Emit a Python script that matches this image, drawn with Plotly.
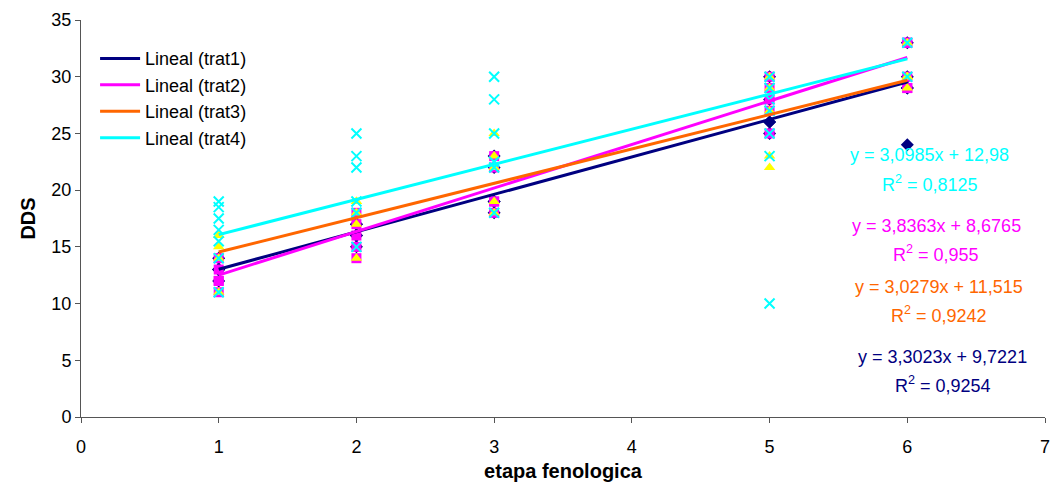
import plotly.graph_objects as go

# ---- data ----
stages = [1, 2, 3, 5, 6]
trat1 = {1: [12, 13, 14, 13, 13], 2: [16, 17, 17, 16, 15], 3: [18, 19, 19, 22, 23],
         5: [26, 26, 25, 30, 28], 6: [24, 29, 29, 33, 30]}
trat2 = {1: [12, 11, 12, 13, 14], 2: [15, 16, 17, 18, 14], 3: [18, 19, 22, 23, 19],
         5: [25, 28, 29, 30, 27], 6: [29, 30, 33, 33, 29]}
trat3 = {1: [11, 15, 16, 14, 16], 2: [14, 18, 19, 17, 19], 3: [18, 19, 22, 23, 25],
         5: [22, 23, 29, 30, 27], 6: [30, 29, 30, 33, 30]}
trat4 = {1: [19, 18.5, 17.5, 16.5, 15.5, 14, 11], 2: [25, 23, 22, 19, 18, 15],
         3: [30, 28, 25, 22.5, 22, 18], 5: [30, 29, 28, 27, 25, 23, 10], 6: [33, 30]}

# trend line coefficients (slope, intercept) and R2 as printed
slopes = [3.3023, 3.8363, 3.0279, 3.0985]
intercepts = [9.7221, 8.6765, 11.515, 12.98]
r2 = ["0,9254", "0,955", "0,9242", "0,8125"]
eq_text = ["y = 3,3023x + 9,7221", "y = 3,8363x + 8,6765",
           "y = 3,0279x + 11,515", "y = 3,0985x + 12,98"]
names = ["Lineal (trat1)", "Lineal (trat2)", "Lineal (trat3)", "Lineal (trat4)"]

colors = ["#000080", "#FF00FF", "#FF6600", "#00FFFF"]
marker_colors = ["#000080", "#FF00FF", "#FFFF00", "#00FFFF"]
symbols = ["diamond", "square", "triangle-up", "x-thin-open"]

fig = go.Figure()

for i, d in enumerate([trat1, trat2, trat3, trat4]):
    xs, ys = [], []
    for s in stages:
        for v in d[s]:
            xs.append(s)
            ys.append(v)
    mk = dict(symbol=symbols[i], color=marker_colors[i], size=10)
    if symbols[i] == "x-thin-open":
        mk["line"] = dict(color=marker_colors[i], width=2)
        mk["size"] = 10
    fig.add_trace(go.Scatter(x=xs, y=ys, mode="markers", marker=mk,
                             showlegend=False, hoverinfo="skip"))

xline = [min(stages), max(stages)]
for i in range(4):
    yline = [slopes[i] * x + intercepts[i] for x in xline]
    fig.add_trace(go.Scatter(x=xline, y=yline, mode="lines",
                             line=dict(color=colors[i], width=3),
                             name=names[i]))

# equations (paper positions: eq x, eq y, R2 x, R2 y)
ann_pos = [(0.894, 0.151, 0.894, 0.081),
           (0.887, 0.481, 0.887, 0.413),
           (0.890, 0.327, 0.890, 0.257),
           (0.880, 0.660, 0.881, 0.589)]
for i in range(4):
    ex, ey, rx, ry = ann_pos[i]
    fig.add_annotation(x=ex, y=ey, xref="paper", yref="paper", text=eq_text[i],
                       xanchor="center", yanchor="middle",
                       showarrow=False, font=dict(color=colors[i], size=18))
    fig.add_annotation(x=rx, y=ry, xref="paper", yref="paper",
                       text="R<sup>2</sup> = " + r2[i],
                       xanchor="center", yanchor="middle",
                       showarrow=False, font=dict(color=colors[i], size=18))

axis_common = dict(showgrid=False, zeroline=False, showline=True, linecolor="#555555",
                   linewidth=1, ticks="outside", ticklen=5, tickcolor="#555555",
                   tickfont=dict(size=18, color="black"), automargin=False)
fig.update_xaxes(range=[0, 7], dtick=1, tick0=0, ticklabeloverflow="allow",
                 ticklabelstandoff=8, **axis_common,
                 title=dict(text="<b>etapa fenologica</b>", font=dict(size=20, color="black"),
                            standoff=8))
fig.update_yaxes(range=[0, 35], dtick=5, tick0=0, **axis_common,
                 title=dict(text="<b>DDS</b>", font=dict(size=20, color="black"),
                            standoff=10))

fig.update_layout(
    width=1052, height=490,
    margin=dict(l=81, r=7, t=20, b=73),
    paper_bgcolor="white", plot_bgcolor="white",
    font=dict(family="Liberation Sans, Arial, sans-serif", color="black"),
    legend=dict(x=0.0146, y=0.949, xanchor="left", yanchor="top", itemwidth=40,
                font=dict(size=18), bgcolor="rgba(0,0,0,0)", tracegroupgap=0),
)

fig.write_html("out.html", config={"displayModeBar": False},
               post_script="document.body.style.margin='0';document.body.style.overflow='hidden';")
